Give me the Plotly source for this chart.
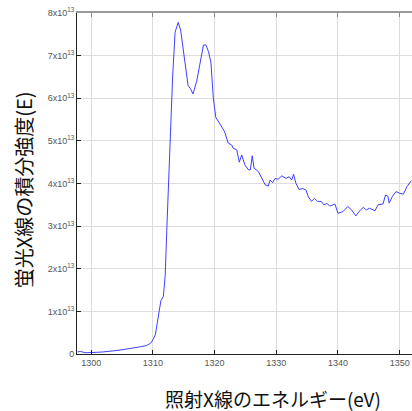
import plotly.graph_objects as go

# Photon energy (eV)
energy = [1297.8, 1298.3, 1299.0, 1300.0, 1301.0, 1302.0, 1303.0, 1304.0, 1305.0, 1306.0,
          1307.0, 1308.0, 1309.0, 1309.6, 1310.0, 1310.4, 1310.7, 1311.0, 1311.3, 1311.7,
          1312.0, 1312.25, 1312.5, 1312.8, 1313.2, 1313.6, 1314.1, 1314.5, 1315.0, 1315.4,
          1315.7, 1316.1, 1316.5, 1317.1, 1317.6, 1318.2, 1318.6, 1319.0, 1319.4, 1319.8,
          1320.2, 1320.9, 1321.5, 1321.7, 1322.2, 1322.8, 1323.0, 1323.6, 1324.0, 1324.4,
          1324.9, 1325.5, 1325.8, 1326.1, 1326.4, 1327.1, 1327.6, 1328.2, 1328.7, 1329.0,
          1329.4, 1329.8, 1330.3, 1330.9, 1331.6, 1332.1, 1332.5, 1332.8, 1333.2, 1333.7,
          1334.3, 1334.8, 1335.2, 1335.7, 1336.2, 1336.7, 1337.3, 1337.7, 1338.2, 1338.7,
          1339.5, 1340.0, 1340.8, 1341.6, 1342.2, 1342.9, 1343.4, 1344.1, 1344.6, 1345.1,
          1346.0, 1346.5, 1347.3, 1347.7, 1348.1, 1348.3, 1348.8, 1349.4, 1350.0, 1350.6,
          1351.2, 1351.9]

# Integrated fluorescence intensity, in units of 1e13
intensity_e13 = [0.05, 0.06, 0.03, 0.03, 0.04, 0.05, 0.06, 0.08, 0.10, 0.12,
                 0.14, 0.17, 0.20, 0.25, 0.33, 0.45, 0.72, 1.05, 1.25, 1.35,
                 1.85, 2.9, 3.9, 5.2, 6.5, 7.55, 7.78, 7.6, 7.05, 6.6,
                 6.3, 6.22, 6.1, 6.4, 6.75, 7.25, 7.25, 7.1, 6.85, 6.0,
                 5.55, 5.4, 5.25, 5.18, 4.95, 4.9, 4.83, 4.79, 4.5, 4.67,
                 4.44, 4.32, 4.32, 4.65, 4.36, 4.28, 4.12, 3.97, 3.94, 4.08,
                 4.02, 4.12, 4.10, 4.18, 4.12, 4.16, 4.08, 4.22, 4.0, 3.86,
                 3.88, 3.85, 3.69, 3.58, 3.65, 3.58, 3.58, 3.50, 3.53, 3.47,
                 3.52, 3.30, 3.34, 3.46, 3.38, 3.24, 3.34, 3.44, 3.38, 3.42,
                 3.36, 3.50, 3.52, 3.73, 3.70, 3.54, 3.69, 3.81, 3.77, 3.75,
                 3.93, 4.07]

x_ticks = [1300, 1310, 1320, 1330, 1340, 1350]
y_tick_vals = [0, 1e13, 2e13, 3e13, 4e13, 5e13, 6e13, 7e13, 8e13]
y_tick_text = ["0"] + [f"{k}x10<sup>13</sup>" for k in range(1, 9)]

x_title = "照射X線のエネルギー(eV)"
y_title = "蛍光X線の積分強度(E)"

intensity = [v * 1e13 for v in intensity_e13]

fig = go.Figure()
fig.add_trace(go.Scatter(x=energy, y=intensity, mode="lines",
                         line=dict(color="#4040ff", width=1), showlegend=False))
# dummy trace for the top axis
fig.add_trace(go.Scatter(x=[energy[0]], y=[intensity[0]], xaxis="x2", mode="lines",
                         line=dict(width=0), showlegend=False, hoverinfo="skip"))

tickfont = dict(family="Liberation Sans, Arial, sans-serif", size=9, color="#555555")

fig.update_layout(
    width=412, height=411,
    margin=dict(l=77, r=0, t=13, b=57),
    paper_bgcolor="white", plot_bgcolor="white",
    xaxis=dict(range=[1297.7, 1352.0], tickvals=x_ticks, ticks="inside", ticklen=4,
               tickcolor="#222222", showline=True, linecolor="#222222", linewidth=1,
               showgrid=True, gridcolor="#dddddd", gridwidth=1, zeroline=False,
               tickfont=tickfont),
    xaxis2=dict(range=[1297.7, 1352.0], overlaying="x", side="top", tickvals=x_ticks,
                ticks="inside", ticklen=4, tickcolor="#888888", showticklabels=False,
                showline=True, linecolor="#999999", linewidth=2, showgrid=False,
                zeroline=False),
    yaxis=dict(range=[0, 8e13], tickvals=y_tick_vals, ticktext=y_tick_text,
               ticks="inside", ticklen=4, tickcolor="#222222", showline=True,
               linecolor="#222222", linewidth=1, showgrid=True, gridcolor="#dddddd",
               gridwidth=1, zeroline=False, tickfont=tickfont),
    annotations=[
        dict(text=x_title, xref="paper", yref="paper", x=0.585, y=0, yshift=-44,
             showarrow=False, xanchor="center", yanchor="middle",
             font=dict(family="Noto Sans CJK JP", size=19, color="#111111")),
        dict(text=y_title, xref="paper", yref="paper", x=0, xshift=-54, y=0.48,
             showarrow=False, textangle=-90, xanchor="center", yanchor="middle",
             font=dict(family="Noto Sans CJK JP", size=20, color="#111111")),
    ],
)

fig.write_html("out.html", config={"displayModeBar": False},
               post_script="document.body.style.margin='0';document.body.style.overflow='hidden';")
